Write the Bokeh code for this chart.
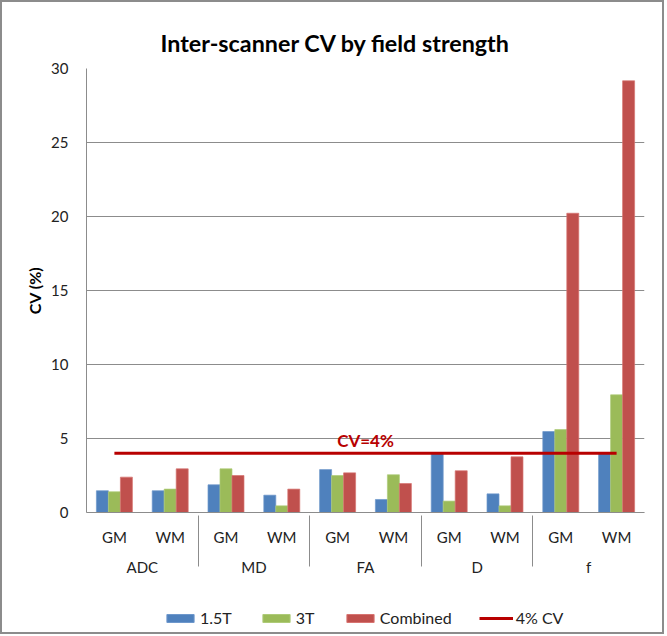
from bokeh.plotting import figure
from bokeh.layouts import column
from bokeh.models import (FactorRange, Legend, LegendItem, Label, Arrow,
                          FixedTicker, ColumnDataSource)
from bokeh.transform import dodge
from bokeh.embed import file_html
from bokeh.resources import INLINE

# ---- data ----
groups = ["ADC", "MD", "FA", "D", "f"]
tissues = ["GM", "WM"]
cv_15t = [1.47, 1.47, 1.87, 1.17, 2.90, 0.88, 4.00, 1.26, 5.47, 4.00]
cv_3t = [1.40, 1.58, 2.95, 0.45, 2.50, 2.55, 0.77, 0.45, 5.60, 7.95]
cv_combined = [2.39, 2.95, 2.50, 1.58, 2.68, 1.96, 2.82, 3.76, 20.22, 29.17]
threshold = 4
y_ticks = [0, 5, 10, 15, 20, 25, 30]
series_names = ["1.5T", "3T", "Combined", "4% CV"]

FONT = "Lato"
BLUE, GREEN, RED, DARKRED = "#4F81BD", "#9BBB59", "#C0504D", "#B80000"
EDGES = ["#6E98CC", "#AECB78", "#D77471"]
GRID = "#8C8C8C"
BORDER = "#8C8C8C"

factors = [(g, t) for g in groups for t in tissues]
src = ColumnDataSource(dict(x=factors, t15=cv_15t, t3=cv_3t, comb=cv_combined,
                            thr=[threshold] * len(factors)))

p = figure(width=660, height=598,
           x_range=FactorRange(*factors, group_padding=0, factor_padding=0, range_padding=0),
           y_range=(0, 30),
           output_backend="svg", toolbar_location=None,
           min_border_left=84, min_border_right=18, min_border_top=66, min_border_bottom=88)

p.title.text = "Inter-scanner CV by field strength"
p.title.align = "left"
p.title.vertical_align = "top"
p.title.text_font = FONT
p.title.text_font_size = "23.3px"
p.title.text_font_style = "bold"
p.title.text_color = "#000000"
p.title.offset = 74
p.title.standoff = 20

bw = 0.215
p.vbar(x=dodge("x", -bw, range=p.x_range), top="t15", width=bw, source=src,
       fill_color=BLUE, line_color=EDGES[0], line_width=0.7)
p.vbar(x=dodge("x", 0, range=p.x_range), top="t3", width=bw, source=src,
       fill_color=GREEN, line_color=EDGES[1], line_width=0.7)
p.vbar(x=dodge("x", bw, range=p.x_range), top="comb", width=bw, source=src,
       fill_color=RED, line_color=EDGES[2], line_width=0.7)
p.line(x="x", y="thr", source=src, line_color=DARKRED, line_width=3)

p.add_layout(Label(x=5, y=threshold, text="CV=4%", text_align="center",
                   text_baseline="bottom", y_offset=2, text_font=FONT,
                   text_font_size="17px", text_font_style="bold", text_color=DARKRED))

# axes
p.outline_line_color = None
p.xgrid.grid_line_color = None
p.ygrid.grid_line_color = GRID
p.ygrid.grid_line_width = 1

p.yaxis.ticker = FixedTicker(ticks=y_ticks)
p.yaxis.axis_line_color = GRID
p.yaxis.major_tick_line_color = None
p.yaxis.minor_tick_line_color = None
p.yaxis.major_label_text_font = FONT
p.yaxis.major_label_text_font_size = "15px"
p.yaxis.major_label_text_color = "#222222"
p.yaxis.major_label_standoff = 12
p.yaxis.axis_label = "CV (%)"
p.yaxis.axis_label_text_font = FONT
p.yaxis.axis_label_text_font_size = "16px"
p.yaxis.axis_label_text_font_style = "bold"
p.yaxis.axis_label_text_color = "#000000"
p.yaxis.axis_label_standoff = 4

xa = p.xaxis[0]
xa.axis_line_color = GRID
xa.major_tick_line_color = None
xa.major_label_text_font = FONT
xa.major_label_text_font_size = "15px"
xa.major_label_text_color = "#222222"
xa.major_label_standoff = 9
xa.group_text_font = FONT
xa.group_text_font_size = "15px"
xa.group_text_font_style = "normal"
xa.group_text_color = "#222222"
xa.separator_line_color = GRID
xa.separator_line_width = 1

for xe in (0, len(factors)):
    p.add_layout(Arrow(x_start=xe, y_start=0, x_end=xe, y_end=-4.6, start=None, end=None,
                       line_color=GRID, line_width=1))

# ---- legend strip ----
lg = figure(width=660, height=32, x_range=(0, 1), y_range=(0, 1),
            output_backend="svg", toolbar_location=None,
            x_axis_location=None, y_axis_location=None,
            min_border_left=0, min_border_right=0, min_border_top=0, min_border_bottom=0)
lg.outline_line_color = None
lg.grid.grid_line_color = None
# legend key proxies (kept outside the visible range of the strip)
proxy = ColumnDataSource(dict(x=[-5], top=[0], y=[-5]))
k1 = lg.vbar(x="x", top="top", width=0.1, source=proxy, fill_color=BLUE, line_color=EDGES[0])
k2 = lg.vbar(x="x", top="top", width=0.1, source=proxy, fill_color=GREEN, line_color=EDGES[1])
k3 = lg.vbar(x="x", top="top", width=0.1, source=proxy, fill_color=RED, line_color=EDGES[2])
k4 = lg.line(x="x", y="y", source=proxy, line_color=DARKRED, line_width=3)

legend = Legend(items=[LegendItem(label=n, renderers=[r]) for n, r in
                       zip(series_names, [k1, k2, k3, k4])],
                orientation="horizontal", location=(77, 5),
                glyph_width=34, glyph_height=10, spacing=27, padding=0, margin=0,
                label_text_font=FONT, label_text_font_size="16px",
                label_text_color="#222222", label_standoff=3,
                border_line_color=None, background_fill_alpha=0)
lg.add_layout(legend)

layout = column(p, lg, spacing=0, styles={"border": f"2px solid {BORDER}"})
open("out.html", "w").write(file_html(layout, INLINE))
